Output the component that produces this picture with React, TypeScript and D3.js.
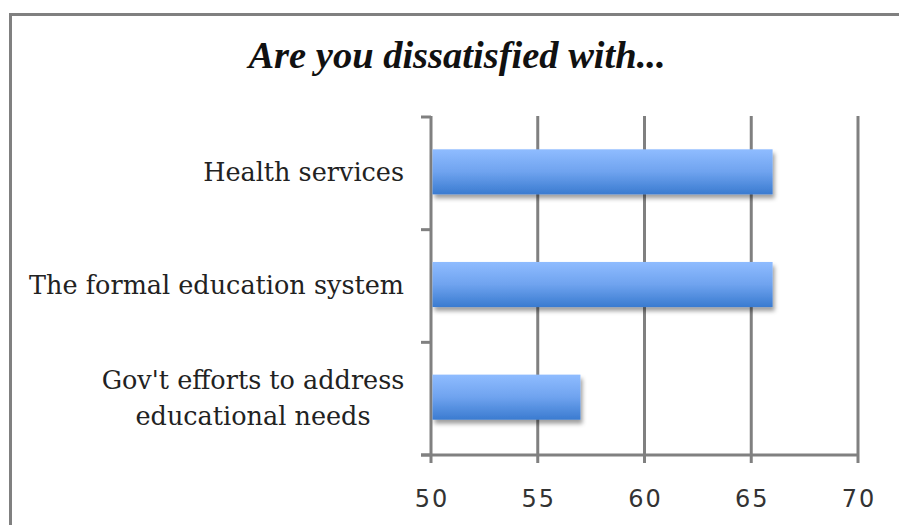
import React from "react";
import * as d3 from "d3";

const title = "Are you dissatisfied with...";
const categories = ["Health services", "The formal education system", "Gov't efforts to address|educational needs"];
const values = [66, 66, 57];
const xTicks = [50, 55, 60, 65, 70];

export default function App() {
  const W = 899, H = 525;
  const left = 431, right = 858, top = 117, bottom = 455;
  const x = d3.scaleLinear().domain([50, 70]).range([left, right]);
  const y = d3.scaleBand<string>().domain(categories).range([top, bottom]).paddingInner(0.6).paddingOuter(0.3);
  const catTicks = d3.range(categories.length + 1).map((i) => top + i * (bottom - top) / categories.length);
  const grid = "#808080";
  const labelRight = 404;
  return (
    <svg width={W} height={H} style={{ position: "absolute", left: 0, top: 0, background: "#fff" }}>
      <defs>
        <linearGradient id="barg" x1="0" y1="0" x2="0" y2="1">
          <stop offset="0" stopColor="#8fbcff" />
          <stop offset="0.5" stopColor="#6fa3ef" />
          <stop offset="1" stopColor="#3a7bd0" />
        </linearGradient>
        <filter id="sh" x="-10%" y="-30%" width="130%" height="180%">
          <feDropShadow dx="2" dy="4" stdDeviation="2.2" floodColor="#000" floodOpacity="0.38" />
        </filter>
      </defs>
      <rect x={10.5} y={14.5} width={W + 10} height={H + 10} fill="none" stroke={grid} strokeWidth={3} />
      <text x={457} y={68} textAnchor="middle" fontFamily="Liberation Serif" fontWeight="bold" fontStyle="italic" fontSize={38.5} fill="#111">{title}</text>
      {xTicks.map((t) => (
        <line key={"g" + t} x1={x(t)} x2={x(t)} y1={top - 1} y2={bottom + 8} stroke={grid} strokeWidth={3} />
      ))}
      <line x1={left - 10} x2={right} y1={bottom} y2={bottom} stroke={grid} strokeWidth={3} />
      {catTicks.map((t, i) => (
        <line key={"c" + i} x1={left - 10} x2={left} y1={t} y2={t} stroke={grid} strokeWidth={3} />
      ))}
      {categories.map((c, i) => (
        <rect key={"b" + i} x={x(50) + 1.5} y={(y(c) as number) - 1.5} width={x(values[i]) - x(50) - 1.5} height={y.bandwidth()} fill="url(#barg)" filter="url(#sh)" />
      ))}
      {categories.map((c, i) => {
        const lines = c.split("|");
        const cy = (y(c) as number) + y.bandwidth() / 2 - 1;
        const lh = 36;
        const multi = lines.length > 1;
        return (
          <text key={"l" + i} fontFamily="DejaVu Serif" fontSize={25.5} fill="#222" textAnchor={multi ? "middle" : "end"}>
            {lines.map((ln, j) => (
              <tspan key={j} x={multi ? 253 : labelRight} y={cy + (j - (lines.length - 1) / 2) * lh + 9}>{ln}</tspan>
            ))}
          </text>
        );
      })}
      {xTicks.map((t) => (
        <text key={"t" + t} x={x(t) + 1} y={507} textAnchor="middle" fontFamily="DejaVu Sans" fontSize={24} letterSpacing={2} fill="#333">{t}</text>
      ))}
    </svg>
  );
}
